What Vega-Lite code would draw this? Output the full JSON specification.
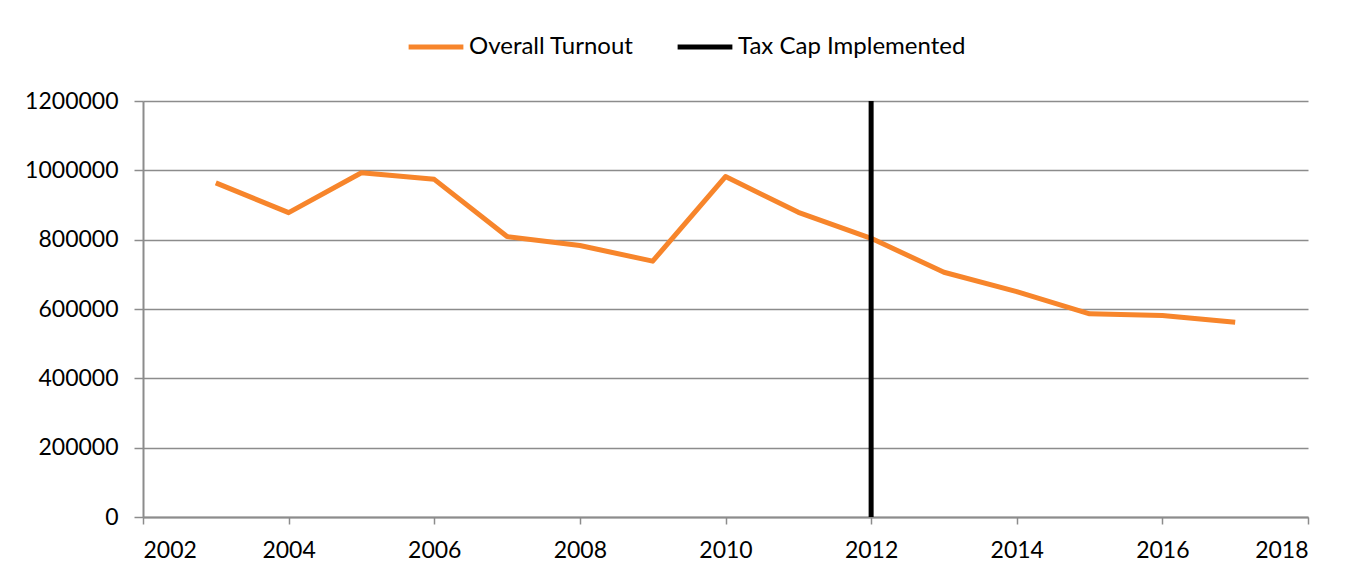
{
  "$schema": "https://vega.github.io/schema/vega-lite/v6.json",
  "width": 1165,
  "height": 416,
  "autosize": {"type": "none"},
  "padding": {"left": 143, "top": 101, "right": 61, "bottom": 63},
  "background": "white",
  "data": {
    "values": [
      {"year": 2003, "value": 964000, "series": "Overall Turnout"},
      {"year": 2004, "value": 878000, "series": "Overall Turnout"},
      {"year": 2005, "value": 993000, "series": "Overall Turnout"},
      {"year": 2006, "value": 974000, "series": "Overall Turnout"},
      {"year": 2007, "value": 809000, "series": "Overall Turnout"},
      {"year": 2008, "value": 783000, "series": "Overall Turnout"},
      {"year": 2009, "value": 738000, "series": "Overall Turnout"},
      {"year": 2010, "value": 982000, "series": "Overall Turnout"},
      {"year": 2011, "value": 879000, "series": "Overall Turnout"},
      {"year": 2012, "value": 804000, "series": "Overall Turnout"},
      {"year": 2013, "value": 706000, "series": "Overall Turnout"},
      {"year": 2014, "value": 650000, "series": "Overall Turnout"},
      {"year": 2015, "value": 586000, "series": "Overall Turnout"},
      {"year": 2016, "value": 581000, "series": "Overall Turnout"},
      {"year": 2017, "value": 562000, "series": "Overall Turnout"},
      {"year": 2012, "value": 0, "series": "Tax Cap Implemented"},
      {"year": 2012, "value": 1200000, "series": "Tax Cap Implemented"}
    ]
  },
  "mark": {"type": "line", "strokeWidth": 5, "strokeCap": "butt", "strokeJoin": "round"},
  "encoding": {
    "x": {
      "field": "year",
      "type": "quantitative",
      "scale": {"domain": [2002, 2018], "nice": false, "zero": false},
      "axis": {
        "title": null,
        "values": [2002, 2004, 2006, 2008, 2010, 2012, 2014, 2016, 2018],
        "format": "d",
        "grid": false,
        "domainColor": "#8c8c8c",
        "domainWidth": 2,
        "tickColor": "#8c8c8c",
        "tickWidth": 1.5,
        "tickSize": 7,
        "labelFont": "Lato",
        "labelFontSize": 23,
        "labelColor": "#000000",
        "labelPadding": 15
      }
    },
    "y": {
      "field": "value",
      "type": "quantitative",
      "scale": {"domain": [0, 1200000], "nice": false},
      "axis": {
        "title": null,
        "values": [0, 200000, 400000, 600000, 800000, 1000000, 1200000],
        "format": "d",
        "grid": true,
        "gridColor": "#8c8c8c",
        "gridWidth": 1.5,
        "domainColor": "#8c8c8c",
        "domainWidth": 2,
        "tickColor": "#8c8c8c",
        "tickWidth": 1.5,
        "tickSize": 9,
        "labelFont": "Lato",
        "labelFontSize": 23,
        "labelColor": "#000000",
        "labelPadding": 16
      }
    },
    "color": {
      "field": "series",
      "type": "nominal",
      "scale": {"domain": ["Overall Turnout", "Tax Cap Implemented"], "range": ["#F7852B", "#000000"]},
      "legend": {
        "title": null,
        "orient": "none",
        "direction": "horizontal",
        "legendX": 263,
        "legendY": -84,
        "symbolType": "stroke",
        "symbolSize": 3000,
        "symbolStrokeWidth": 5,
        "labelFont": "Lato",
        "labelFontSize": 24,
        "labelLimit": 400,
        "labelColor": "#000000",
        "labelOffset": 3,
        "columnPadding": 33
      }
    }
  },
  "config": {"view": {"stroke": null}}
}
